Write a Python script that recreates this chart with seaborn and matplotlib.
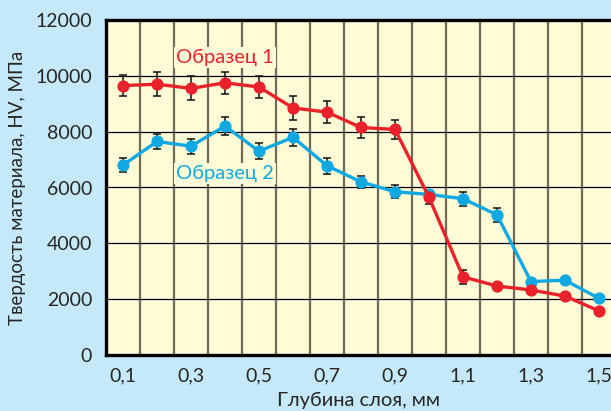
import matplotlib
matplotlib.use("Agg")
import matplotlib.pyplot as plt
import seaborn as sns
import pandas as pd
import numpy as np

depth = [0.1, 0.2, 0.3, 0.4, 0.5, 0.6, 0.7, 0.8, 0.9, 1.0, 1.1, 1.2, 1.3, 1.4, 1.5]
sample1 = [9650, 9700, 9550, 9750, 9600, 8850, 8700, 8150, 8080, 5650, 2800, 2470, 2330, 2110, 1580]
sample1_err = [390, 420, 430, 400, 400, 415, 400, 370, 350, 240, 240, 0, 0, 0, 0]
sample2 = [6800, 7650, 7480, 8200, 7300, 7800, 6780, 6200, 5850, 5750, 5600, 5020, 2630, 2680, 2030]
sample2_err = [240, 270, 270, 330, 280, 300, 285, 215, 225, 0, 250, 250, 0, 0, 0]
xtick_vals = [0.1, 0.3, 0.5, 0.7, 0.9, 1.1, 1.3, 1.5]
xtick_labels = ["0,1", "0,3", "0,5", "0,7", "0,9", "1,1", "1,3", "1,5"]
ytick_vals = [0, 2000, 4000, 6000, 8000, 10000, 12000]
series_names = ["Образец 1", "Образец 2"]

RED = "#e8212b"
BLUE = "#10a8e0"
FIG_BG = "#c6e9f9"
AX_BG = "#fffbd7"
TXT = "#262626"

sns.set_theme(style="white")
plt.rcParams["font.family"] = ["Lato", "DejaVu Sans"]

fig = plt.figure(figsize=(6.11, 4.11), dpi=100, facecolor=FIG_BG)
ax = fig.add_axes([106 / 611, 56 / 411, 505 / 611, 335 / 411])
ax.set_facecolor(AX_BG)

df = pd.DataFrame({
    "depth": depth * 2,
    "hv": sample1 + sample2,
    "sample": [series_names[0]] * len(depth) + [series_names[1]] * len(depth),
})

# grid
ax.set_axisbelow(True)
ax.set_xticks(np.arange(0.15, 1.5, 0.1), minor=True)
ax.grid(True, axis="x", which="minor", color="#706a58", linewidth=1.6)
ax.grid(True, axis="y", which="major", color="black", linewidth=0.9)
ax.grid(False, axis="x", which="major")

# error bars
ax.errorbar(depth, sample1, yerr=sample1_err, fmt="none", ecolor="#111111",
            elinewidth=1.1, capsize=2.6, capthick=1.1, zorder=3)
ax.errorbar(depth, sample2, yerr=sample2_err, fmt="none", ecolor="#111111",
            elinewidth=1.1, capsize=2.6, capthick=1.1, zorder=3)

sns.lineplot(data=df[df["sample"] == series_names[1]], x="depth", y="hv",
             color=BLUE, linewidth=2.4, marker="o", markersize=8.8,
             markeredgewidth=0, ax=ax, zorder=4, legend=False)
sns.lineplot(data=df[df["sample"] == series_names[0]], x="depth", y="hv",
             color=RED, linewidth=2.4, marker="o", markersize=8.8,
             markeredgewidth=0, ax=ax, zorder=5, legend=False)

ax.set_xlim(0.05, 0.05 + 505 / 340)
ax.set_ylim(0, 12000)
ax.set_xticks(xtick_vals)
ax.set_xticklabels(xtick_labels)
ax.set_yticks(ytick_vals)
ax.set_yticklabels([str(v) for v in ytick_vals])
ax.tick_params(axis="both", which="both", length=0, labelsize=14, colors=TXT)
ax.tick_params(axis="x", pad=9)
ax.tick_params(axis="y", pad=10)

ax.set_xlabel("Глубина слоя, мм", fontsize=14.5, color=TXT, labelpad=5)
ax.set_ylabel("Твердость материала, HV, МПа", fontsize=13.5, color=TXT, labelpad=7)

for side in ["left", "top", "bottom"]:
    ax.spines[side].set_visible(True)
    ax.spines[side].set_color("black")
    ax.spines[side].set_linewidth(2.4)
ax.spines["right"].set_visible(False)

ax.text(0.40, 10650, series_names[0], color=RED, fontsize=14.5, ha="center", va="center",
        zorder=6, bbox=dict(facecolor=AX_BG, edgecolor="none", pad=1.5))
ax.text(0.40, 6500, series_names[1], color=BLUE, fontsize=14.5, ha="center", va="center",
        zorder=6, bbox=dict(facecolor=AX_BG, edgecolor="none", pad=1.5))

fig.savefig("out.png", dpi=100, facecolor=FIG_BG)
